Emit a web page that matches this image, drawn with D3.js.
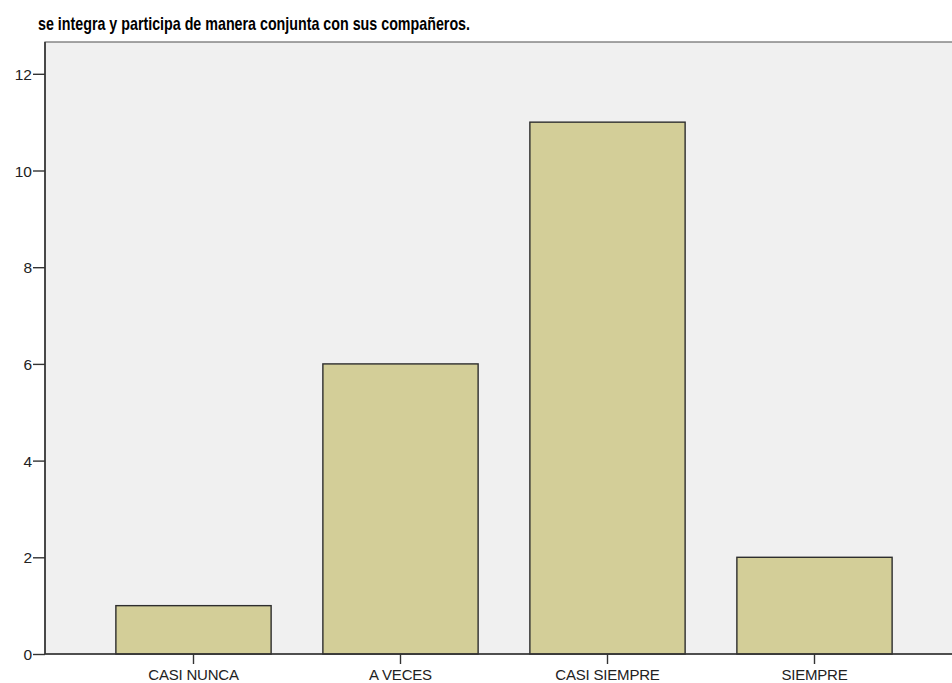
<!DOCTYPE html>
<html><head><meta charset="utf-8">
<script src="https://cdn.jsdelivr.net/npm/d3@7"></script>
<style>body{margin:0;background:#fff}svg{display:block}</style>
</head><body>
<script>
const title = "se integra y participa de manera conjunta con sus compañeros.";
const categories = ["CASI NUNCA", "A VECES", "CASI SIEMPRE", "SIEMPRE"];
const values = [1, 6, 11, 2];
const yTicks = [0, 2, 4, 6, 8, 10, 12];

const W = 952, H = 683;
const plot = {left: 45, top: 42, right: 952, bottom: 654};
const FONT = "Liberation Sans, Arial, sans-serif";

const svg = d3.select("body").append("svg").attr("width", W).attr("height", H);

svg.append("rect").attr("x", plot.left).attr("y", plot.top)
  .attr("width", plot.right - plot.left + 5).attr("height", plot.bottom - plot.top)
  .attr("fill", "#f0f0f0").attr("stroke", "#6a6a6a").attr("stroke-width", 1.2);

const x = d3.scaleBand().domain(categories).range([90, 918]).paddingInner(0.25).paddingOuter(0.125);
const y = d3.scaleLinear().domain([0, 12]).range([plot.bottom, plot.bottom - 12 * 48.35]);

svg.append("g").selectAll("rect").data(values).join("rect")
  .attr("x", (d, i) => x(categories[i]))
  .attr("y", d => y(d))
  .attr("width", x.bandwidth())
  .attr("height", d => y(0) - y(d))
  .attr("fill", "#d3ce98").attr("stroke", "#2e2e2e").attr("stroke-width", 1.4);

const yAxis = svg.append("g").attr("transform", `translate(${plot.left},0)`)
  .call(d3.axisLeft(y).tickValues(yTicks).tickSize(12).tickPadding(1).tickSizeOuter(0));
yAxis.select(".domain").attr("stroke", "#333").attr("stroke-width", 1.6)
  .attr("d", `M0,${plot.top}V${plot.bottom}`);
yAxis.selectAll(".tick line").attr("stroke", "#333").attr("stroke-width", 1.4);
yAxis.selectAll(".tick text").attr("font-family", FONT)
  .attr("font-size", 15.5).attr("fill", "#222").attr("dy", "0.36em");

const xAxis = svg.append("g").attr("transform", `translate(0,${plot.bottom})`)
  .call(d3.axisBottom(x).tickSize(10).tickPadding(5).tickSizeOuter(0));
xAxis.select(".domain").attr("stroke", "#333").attr("stroke-width", 1.6)
  .attr("d", `M${plot.left},0H${W}`);
xAxis.selectAll(".tick line").attr("stroke", "#333").attr("stroke-width", 1.4);
xAxis.selectAll(".tick text").attr("font-family", FONT)
  .attr("font-size", 15).attr("fill", "#222").attr("letter-spacing", "-0.2px");

svg.append("text").attr("x", 38).attr("y", 30)
  .attr("font-family", FONT)
  .attr("font-weight", "bold").attr("font-size", 18.5).attr("fill", "#000")
  .attr("textLength", 432).attr("lengthAdjust", "spacingAndGlyphs")
  .text(title);
</script>
</body></html>
